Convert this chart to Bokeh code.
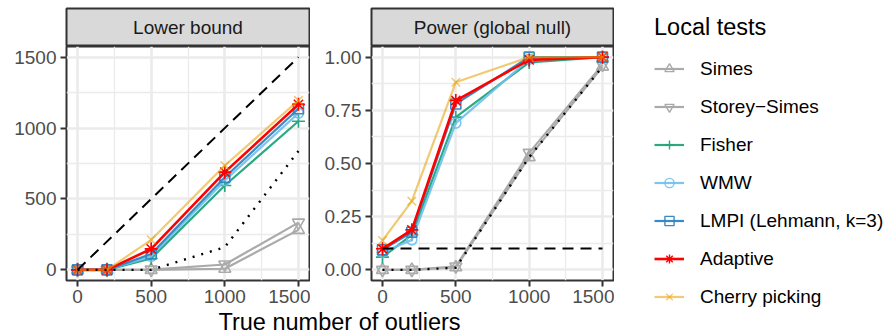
from bokeh.plotting import figure
from bokeh.layouts import row, column
from bokeh.models import (ColumnDataSource, FixedTicker, Legend, LegendItem, Range1d)
from bokeh.embed import file_html
from bokeh.resources import INLINE
from bokeh.core.properties import value

FONT = "Liberation Sans"

# ---------------- data ----------------
outliers = [0, 200, 500, 1000, 1500]
series_names = ["Simes", "Storey\u2212Simes", "Fisher", "WMW", "LMPI (Lehmann, k=3)", "Adaptive", "Cherry picking"]

# Lower bound panel
simes_lb = [0, 0, 0, 8, 282]
storey_lb = [0, 0, 2, 38, 333]
fisher_lb = [0, 0, 80, 595, 1048]
wmw_lb = [0, 0, 95, 630, 1105]
lmpi_lb = [0, 0, 112, 653, 1136]
adaptive_lb = [0, 0, 148, 689, 1167]
cherry_lb = [0, 0, 212, 736, 1195]
oracle_lb = [0, 0, 0, 160, 838]
ideal_x = [0, 1500]
ideal_lb = [0, 1500]

# Power panel
simes_pw = [0, 0, 0.012, 0.53, 0.955]
storey_pw = [0, 0, 0.016, 0.55, 0.965]
fisher_pw = [0.06, 0.165, 0.718, 0.975, 1.0]
wmw_pw = [0.083, 0.141, 0.69, 0.99, 1.0]
lmpi_pw = [0.094, 0.177, 0.78, 1.0, 1.0]
adaptive_pw = [0.099, 0.188, 0.796, 0.987, 1.0]
cherry_pw = [0.138, 0.323, 0.882, 1.0, 1.0]
oracle_pw = [0, 0, 0.01, 0.53, 0.955]
alpha_x = [0, 1500]
alpha_pw = [0.1, 0.1]

x_ticks = [0, 500, 1000, 1500]
lb_ticks = [0, 500, 1000, 1500]
pw_ticks = [0, 0.25, 0.5, 0.75, 1.0]
pw_tick_labels = ["0.00", "0.25", "0.50", "0.75", "1.00"]

# ---------------- styles ----------------
colors = ["#AAAAAA", "#AAAAAA", "#22A37C", "#6EBFEC", "#2F84C0", "#FF0000", "#E69F00"]
alphas = [1.0, 1.0, 0.95, 0.9, 0.95, 1.0, 0.55]
markers = ["triangle", "inverted_triangle", "cross", "circle", "square", "asterisk", "x"]
msizes = [12, 12, 13, 10, 10, 13, 12]
widths = [2.2, 2.2, 2.2, 2.2, 2.2, 2.6, 2.2]

lb_series = [simes_lb, storey_lb, fisher_lb, wmw_lb, lmpi_lb, adaptive_lb, cherry_lb]
pw_series = [simes_pw, storey_pw, fisher_pw, wmw_pw, lmpi_pw, adaptive_pw, cherry_pw]

TICK_FS = "19px"


def style_panel(p, yticks, ylabels=None, yminor=None):
    p.background_fill_color = "white"
    p.border_fill_color = "white"
    p.outline_line_color = "#333333"
    p.outline_line_width = 2
    p.xaxis.ticker = FixedTicker(ticks=x_ticks, minor_ticks=[250, 750, 1250])
    p.yaxis.ticker = FixedTicker(ticks=yticks, minor_ticks=yminor)
    if ylabels is not None:
        p.yaxis.major_label_overrides = {t: l for t, l in zip(yticks, ylabels)}
    for ax in (p.xaxis, p.yaxis):
        ax.axis_line_color = None
        ax.major_tick_line_color = "#333333"
        ax.major_tick_line_width = 2
        ax.major_tick_in = 0
        ax.major_tick_out = 6
        ax.minor_tick_line_color = None
        ax.major_label_text_font = FONT
        ax.major_label_text_font_size = TICK_FS
        ax.major_label_text_color = "#4D4D4D"
    p.xaxis.major_label_standoff = 3
    p.yaxis.major_label_standoff = 4
    p.grid.grid_line_color = "#EBEBEB"
    p.grid.grid_line_width = 2.6
    p.grid.minor_grid_line_color = "#EBEBEB"
    p.grid.minor_grid_line_width = 1.3


def add_series(p, ydata_list):
    for i, yv in enumerate(ydata_list):
        src = ColumnDataSource(dict(x=outliers, y=yv))
        p.line("x", "y", source=src, line_color=colors[i], line_width=widths[i], line_alpha=alphas[i])
        p.scatter("x", "y", source=src, marker=markers[i], size=msizes[i], fill_color=None,
                  line_color=colors[i], line_width=1.6, line_alpha=alphas[i])


# ---------------- panels ----------------
H_PANEL = 259
p1 = figure(width=310, height=H_PANEL, x_range=Range1d(-75, 1575), y_range=Range1d(-75, 1575),
            output_backend="svg", toolbar_location=None,
            min_border_left=66, min_border_right=1, min_border_top=0, min_border_bottom=24)
style_panel(p1, lb_ticks, yminor=[250, 750, 1250])
add_series(p1, lb_series)
p1.line(ideal_x, ideal_lb, line_color="black", line_width=2, line_dash="11 7")
p1.line(outliers, oracle_lb, line_color="black", line_width=2.4, line_dash="2 7")

p2 = figure(width=304, height=H_PANEL, x_range=Range1d(-75, 1575), y_range=Range1d(-0.05, 1.05),
            output_backend="svg", toolbar_location=None,
            min_border_left=61, min_border_right=1, min_border_top=0, min_border_bottom=24)
style_panel(p2, pw_ticks, pw_tick_labels, yminor=[0.125, 0.375, 0.625, 0.875])
add_series(p2, pw_series)
p2.line(alpha_x, alpha_pw, line_color="black", line_width=2, line_dash="11 7")
p2.line(outliers, oracle_pw, line_color="black", line_width=2.4, line_dash="2 7")


# ---------------- strips ----------------
def strip(label, width, left):
    s = figure(width=width, height=46, x_range=Range1d(0, 1), y_range=Range1d(0, 1),
               x_axis_location=None, y_axis_location=None, output_backend="svg",
               toolbar_location=None, min_border_left=left, min_border_right=1,
               min_border_top=8, min_border_bottom=0)
    s.grid.visible = False
    s.background_fill_color = "#D9D9D9"
    s.border_fill_color = "white"
    s.outline_line_color = "#333333"
    s.outline_line_width = 2
    s.text(x=[0.5], y=[0.5], text=[label], text_align="center", text_baseline="middle",
           text_font=value(FONT), text_font_size="19px", text_color="#1A1A1A")
    return s


s1 = strip("Lower bound", 310, 66)
s2 = strip("Power (global null)", 304, 61)

# ---------------- x axis title ----------------
xl = figure(width=614, height=30, x_range=Range1d(0, 614), y_range=Range1d(0, 30),
            x_axis_location=None, y_axis_location=None, output_backend="svg",
            toolbar_location=None, min_border=0)
xl.grid.visible = False
xl.outline_line_color = None
xl.text(x=[339], y=[14], text=["True number of outliers"], text_align="center",
        text_baseline="alphabetic", text_font=value(FONT), text_font_size="23.5px",
        text_color="black")

# ---------------- legend ----------------
lg = figure(width=275, height=335, x_range=Range1d(0, 1), y_range=Range1d(0, 1),
            x_axis_location=None, y_axis_location=None, output_backend="svg",
            toolbar_location=None, min_border_left=40, min_border_top=14,
            min_border_right=0, min_border_bottom=0)
lg.grid.visible = False
lg.outline_line_color = None
items = []
for i, name in enumerate(series_names):
    src = ColumnDataSource(dict(x=[5, 6], y=[5, 6]))
    r1 = lg.line("x", "y", source=src, line_color=colors[i], line_width=widths[i], line_alpha=alphas[i])
    r2 = lg.scatter("x", "y", source=src, marker=markers[i], size=9, fill_color=None,
                    line_color=colors[i], line_width=1.4, line_alpha=alphas[i])
    items.append(LegendItem(label=name, renderers=[r1, r2]))
legend = Legend(items=items, location="top_left", title="Local tests",
                title_text_font=FONT, title_text_font_size="23.5px", title_text_font_style="normal",
                title_text_color="black", title_standoff=16,
                label_text_font=FONT, label_text_font_size="19px", label_text_color="black",
                glyph_width=30, glyph_height=23, label_height=23, spacing=15, label_standoff=16,
                padding=0, margin=0, border_line_color=None, background_fill_alpha=0)
lg.add_layout(legend)

left = column(row(s1, s2), row(p1, p2), xl)
layout = row(left, lg)

open("out.html", "w").write(file_html(layout, INLINE))
